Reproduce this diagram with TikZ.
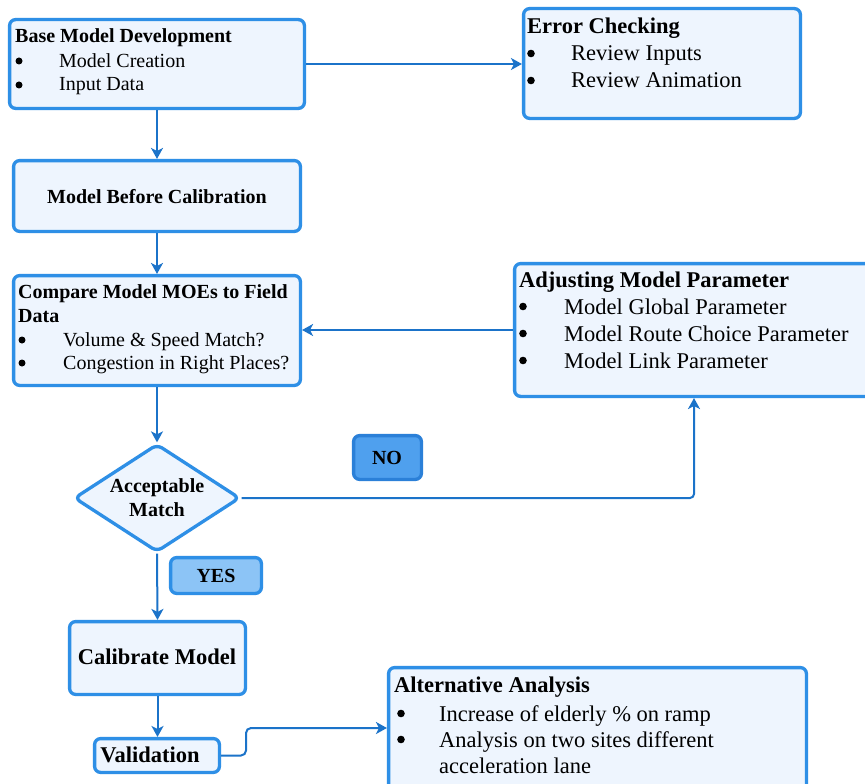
\documentclass[tikz,border=0pt]{standalone}
\usepackage{fontspec}
\setmainfont{Liberation Serif}
\usetikzlibrary{shapes.geometric,arrows.meta,fit}
\definecolor{bord}{HTML}{2E8FE6}
\definecolor{fillc}{HTML}{EEF5FE}
\definecolor{arr}{HTML}{1B73C9}
\definecolor{yesc}{HTML}{8CC4F6}
\definecolor{noc}{HTML}{4FA0EE}
\definecolor{nob}{HTML}{2B80D8}
\begin{document}
\begin{tikzpicture}[x=1pt,y=-1pt,
  box/.style={draw=bord,fill=fillc,line width=3.3pt,rounded corners=6pt,inner sep=0pt},
  conn/.style={draw=arr,line width=2pt,-{Stealth[length=11pt,width=12pt,inset=3pt]}},
  sm/.style={anchor=base west,inner sep=0pt,font=\fontsize{20}{24}\selectfont},
  smb/.style={sm,font=\fontsize{20}{24}\selectfont\bfseries},
  lg/.style={anchor=base west,inner sep=0pt,font=\fontsize{22.5}{27}\selectfont},
  lgb/.style={lg,font=\fontsize{22.5}{27}\selectfont\bfseries},
  dot/.style={circle,fill=black,inner sep=0pt,minimum size=7pt},
  bigdot/.style={circle,fill=black,inner sep=0pt,minimum size=7.6pt},
]
\useasboundingbox (0,0) rectangle (865,784);
\fill[white] (0,0) rectangle (865,784);

% boxes
\node[box,fit={(9.6,19.6) (304.4,108.4)}] (base) {};
\node[box,fit={(523.6,8.6) (800.4,118.4)}] (err) {};
\node[box,fit={(13.6,160.6) (300.4,231.4)}] (mbc) {};
\node[box,fit={(13.6,275.6) (300.4,385.4)}] (cmp) {};
\node[box,fit={(514.6,263.6) (880,396.4)}] (adj) {};
\node[box,diamond,minimum width=166pt,minimum height=108pt] (dia) at (157,498) {};
\node[box,fill=yesc,fit={(170.6,557.6) (261.4,593.4)}] (yes) {};
\node[box,fill=noc,draw=nob,fit={(353.6,435.6) (421.4,479.4)}] (no) {};
\node[box,fit={(69.6,621.6) (245.4,694.4)}] (cal) {};
\node[box,fit={(94.6,738.6) (219.4,772.4)}] (val) {};
\node[box,fit={(388.6,667.6) (806.4,800)}] (alt) {};

% texts: base
\node[smb] (t1) at (15,43) {Base Model Development};
\node[dot] (b11) at (19,61) {};
\node[sm] (t11) at (59,67) {Model Creation};
\node[dot] (b12) at (19,85) {};
\node[sm] (t12) at (59,91) {Input Data};

% error checking
\node[lgb] (t2) at (527,34) {Error Checking};
\node[bigdot] (b21) at (531,53.5) {};
\node[lg] (t21) at (571,61) {Review Inputs};
\node[bigdot] (b22) at (531,80.5) {};
\node[lg] (t22) at (571,88) {Review Animation};

% model before calibration
\node[smb,anchor=base] (t3) at (157,203) {Model Before Calibration};

% compare
\node[smb] (t4) at (18,298) {Compare Model MOEs to Field};
\node[smb] (t4b) at (18,322) {Data};
\node[dot] (b41) at (22,340) {};
\node[sm] (t41) at (63,346) {Volume \& Speed Match?};
\node[dot] (b42) at (22,363) {};
\node[sm] (t42) at (63,369) {Congestion in Right Places?};

% adjusting
\node[lgb] (t5) at (519,287) {Adjusting Model Parameter};
\node[bigdot] (b51) at (523,306.5) {};
\node[lg] (t51) at (564,314) {Model Global Parameter};
\node[bigdot] (b52) at (523,333.5) {};
\node[lg] (t52) at (564,341) {Model Route Choice Parameter};
\node[bigdot] (b53) at (523,360.5) {};
\node[lg] (t53) at (564,368) {Model Link Parameter};

% diamond text
\node[smb,anchor=base] (t6a) at (157,492) {Acceptable};
\node[smb,anchor=base] (t6b) at (157,516) {Match};

% yes / no
\node[smb,anchor=base] (tyes) at (216,582) {YES};
\node[smb,anchor=base] (tno) at (387,464) {NO};

% calibrate, validation
\node[lgb,anchor=base] (t7) at (157,664) {Calibrate Model};
\node[lgb,anchor=base] (t8) at (150,762) {Validation};

% alternative
\node[lgb] (t9) at (394,692) {Alternative Analysis};
\node[bigdot] (b91) at (401,713.5) {};
\node[lg] (t91) at (439,721) {Increase of elderly \% on ramp};
\node[bigdot] (b92) at (401,739.5) {};
\node[lg] (t92) at (439,747) {Analysis on two sites different};
\node[lg] (t93) at (439,773) {acceleration lane};

% helper coordinates
\coordinate (y330) at (0,330);
\coordinate (x694) at (694,0);
\coordinate (v1) at (246,728);

% connectors
\draw[conn] (base.east) -- (base.east -| err.west);
\draw[conn] (base.south) -- (mbc.north);
\draw[conn] (mbc.south) -- (cmp.north);
\draw[conn] (cmp.south) -- (dia.north);
\draw[conn] (adj.west |- y330) -- (cmp.east |- y330);
\draw[conn,rounded corners=4pt] (dia.east) -| (x694 |- adj.south);
\draw[conn] (dia.south) -- (cal.north);
\draw[conn] (cal.south) -- (val.north -| cal.south);
\draw[conn,rounded corners=5pt] (val.east) -| (v1) -- (v1 -| alt.west);
\end{tikzpicture}
\end{document}
